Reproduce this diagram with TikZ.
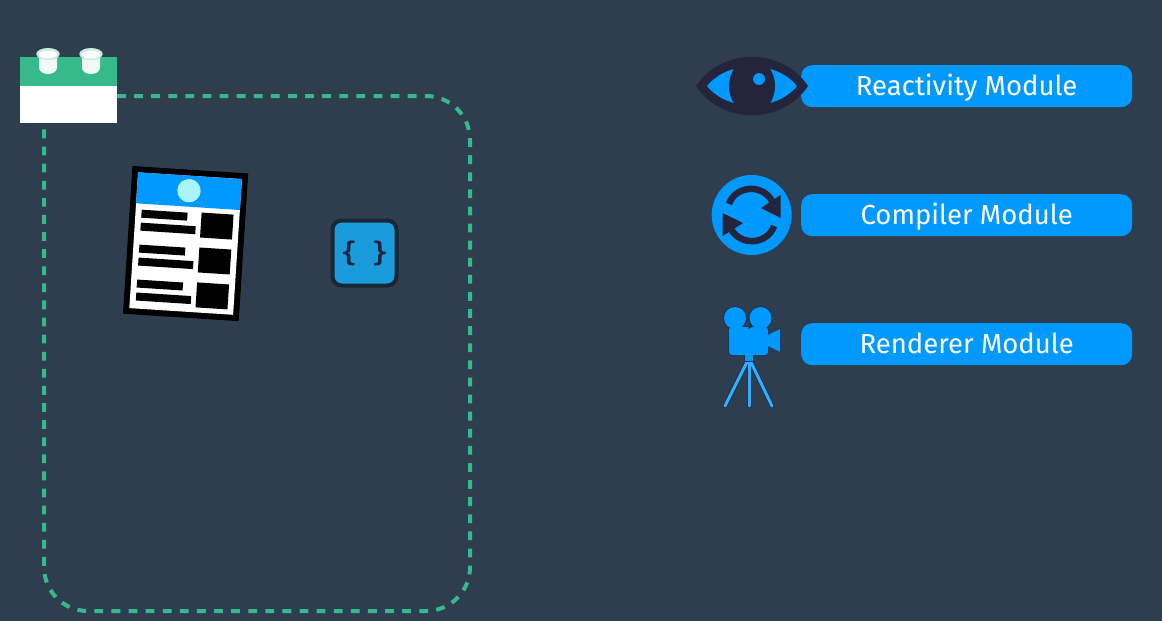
\documentclass[tikz,border=0pt]{standalone}
\usepackage{fontspec}
\setmainfont{Fira Sans}
\newfontfamily\codefont{DejaVu Sans Mono}
\usetikzlibrary{calc}
\definecolor{bgc}{HTML}{2F3E4E}
\definecolor{grn}{HTML}{36B98B}
\definecolor{blu}{HTML}{0099FF}
\definecolor{drk}{HTML}{24243C}
\definecolor{codeblu}{HTML}{1A9BDB}
\definecolor{camedge}{HTML}{1B3556}
\definecolor{codeedge}{HTML}{1A2632}
\definecolor{headdot}{HTML}{A9F5FB}
\tikzset{
  btn/.style={fill=blu,rounded corners=11pt,minimum width=331pt,minimum height=42pt,inner sep=0pt,text=white,text height=19pt,text depth=0pt,font=\fontsize{27.5pt}{31pt}\selectfont,anchor=north west},
  dashline/.style={draw=grn,line width=4pt,dash pattern=on 8.8pt off 8.3pt},
  bar/.style={fill=black},
  leg/.style={draw=camedge,line width=5pt,line cap=round},
  legin/.style={draw=blu!80!white,line width=3pt,line cap=round},
  camout/.style={fill=camedge,draw=camedge,line width=2pt,line join=round},
  camin/.style={fill=blu,line join=round}
}
\begin{document}
\begin{tikzpicture}[x=1pt,y=-1pt]
\useasboundingbox (0,0) rectangle (1162,621);
\fill[bgc] (0,0) rectangle (1162,621);
% dashed frame
\coordinate (frameA) at (117,96);
\coordinate (frameB) at (44,124);
\draw[dashline,rounded corners=44pt] (frameA) -- (470,96) -- (470,611) -- (44,611) -- (frameB);
% brick
\fill[grn] (20,57) rectangle (117,86);
\node[fill=white,draw=none,inner sep=0pt,minimum width=97pt,minimum height=37pt,anchor=north west] (brick) at (20,86) {};
\foreach \c in {48,91}{
  \path[fill=white!92!grn] (\c-9,54) -- (\c-9,68) .. controls (\c-8,76) and (\c+8,76) .. (\c+9,68) -- (\c+9,54) -- cycle;
  \fill[white!72!grn] (\c,54) ellipse (11.7pt and 6pt);
  \fill[white] (\c,54.5) ellipse (9pt and 4pt);
}
% document
\begin{scope}[shift={(132.5,166)},rotate=-3.7]
  \fill[black] (0,0) rectangle (116,148);
  \fill[white] (6,6) rectangle (110,142);
  \fill[blu] (6,6) rectangle (110,37);
  \fill[headdot] (58,21) circle (11.7pt);
  \foreach \y in {43,78,113}{
    \fill[bar] (12,\y) rectangle (58,\y+8);
    \fill[bar] (12,\y+13) rectangle (67,\y+21);
    \fill[bar] (72,\y-1) rectangle (104,\y+24);
  }
\end{scope}
% code block
\node[fill=codeblu,draw=codeedge,line width=4pt,rounded corners=9pt,minimum width=64pt,minimum height=65pt,inner sep=0pt,text=drk,font=\codefont\bfseries\fontsize{27pt}{30pt}\selectfont] (code) at (364.5,253) {\{\kern 15pt\}};
% buttons
\node[btn] (b1) at (801,65) {Reactivity Module};
\node[btn] (b2) at (801,194) {Compiler Module};
\node[btn] (b3) at (801,323) {Renderer Module};
% eye
\fill[drk] (696,86) .. controls (722,47) and (782,47) .. (808,86) .. controls (782,125) and (722,125) .. (696,86) -- cycle;
\fill[blu] (707,86) .. controls (728,60) and (776,60) .. (797,86) .. controls (776,112) and (728,112) .. (707,86) -- cycle;
\fill[drk] (752,86) ellipse (23pt and 28pt);
\fill[blu] (759,79) circle (6pt);
% sync
\fill[blu] (751.7,215) circle (40pt);
\draw[drk,line width=6.5pt] (729,204) .. controls (735,186) and (762,183) .. (772,201);
\fill[drk] (780.7,195) -- (780.7,218) -- (761,208) -- cycle;
\draw[drk,line width=6.5pt] (774,226) .. controls (768,244) and (741,247) .. (731,229);
\fill[drk] (722.7,213) -- (722.7,236) -- (743,223) -- cycle;
% camera
\foreach \e in {725,749,772}{\draw[leg] (749,358) -- (\e,406);}
\foreach \e in {725,749,772}{\draw[legin] (749,358) -- (\e,406);}
\filldraw[camout] (735,318) circle (11pt);
\filldraw[camout] (760.5,318) circle (11pt);
\filldraw[camout] (768,336) -- (780,329) -- (780,352) -- (768,345) -- cycle;
\filldraw[camout,rounded corners=3pt] (729,327) rectangle (768,355);
\filldraw[camout] (745,355) rectangle (753,361);
\fill[camin] (735,318) circle (11pt);
\fill[camin] (760.5,318) circle (11pt);
\fill[camin] (766,336) -- (780,329) -- (780,352) -- (766,345) -- cycle;
\fill[camin,rounded corners=3pt] (729,327) rectangle (768,355);
\fill[camin] (745,355) rectangle (753,361);
\fill[camedge] (747.7,329) -- (750.5,323) -- (752.5,327) -- cycle;
\end{tikzpicture}
\end{document}
